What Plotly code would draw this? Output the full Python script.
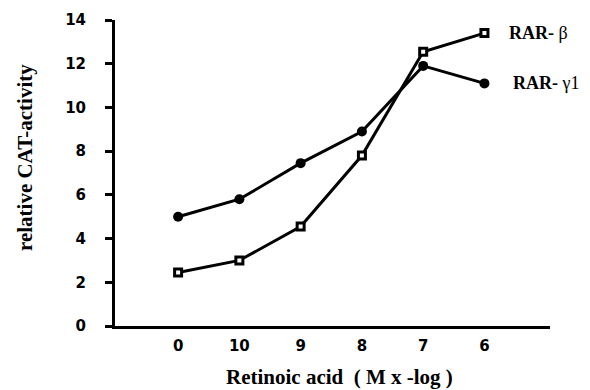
import plotly.graph_objects as go

categories = ["0", "10", "9", "8", "7", "6"]
rar_beta = [2.45, 3.0, 4.55, 7.8, 12.55, 13.4]
rar_gamma1 = [5.0, 5.8, 7.45, 8.9, 11.9, 11.1]
y_ticks = [0, 2, 4, 6, 8, 10, 12, 14]

x_pos = list(range(len(categories)))

fig = go.Figure()
fig.add_trace(go.Scatter(
    x=x_pos, y=rar_gamma1, mode="lines+markers", name="RAR- γ1",
    line=dict(color="black", width=3),
    marker=dict(symbol="circle", size=10, color="black"),
))
fig.add_trace(go.Scatter(
    x=x_pos, y=rar_beta, mode="lines+markers", name="RAR- β",
    line=dict(color="black", width=3),
    marker=dict(symbol="square", size=7, color="white", line=dict(color="black", width=3)),
))

serif = "Liberation Serif"
sans = "DejaVu Sans"

fig.add_annotation(x=x_pos[-1], y=rar_beta[-1], text="<b>RAR-</b> β", showarrow=False,
                   xanchor="left", yanchor="middle", xshift=23,
                   font=dict(family=serif, size=18, color="black"))
fig.add_annotation(x=x_pos[-1], y=rar_gamma1[-1], text="<b>RAR-</b> γ1", showarrow=False,
                   xanchor="left", yanchor="middle", xshift=27,
                   font=dict(family=serif, size=18, color="black"))

# axis titles
fig.add_annotation(xref="paper", yref="paper", x=-0.207, y=0.552, textangle=-90,
                   text="<b>relative CAT-activity</b>", showarrow=False,
                   xanchor="center", yanchor="middle",
                   font=dict(family=serif, size=21, color="black"))
fig.add_annotation(xref="paper", yref="paper", x=0.517, y=-0.167,
                   text="<b>Retinoic acid  ( M x -log )</b>", showarrow=False,
                   xanchor="center", yanchor="middle",
                   font=dict(family=serif, size=21, color="black"))

fig.update_layout(
    width=590, height=390,
    margin=dict(l=115, r=40, t=20, b=64),
    paper_bgcolor="white", plot_bgcolor="white",
    showlegend=False,
    xaxis=dict(
        range=[-1.03, 6.07], tickmode="array", tickvals=x_pos, ticktext=categories,
        showline=True, linecolor="black", linewidth=3, showgrid=False, zeroline=False,
        ticks="", ticklabelstandoff=4, automargin=False,
        tickfont=dict(family=sans, size=15, color="black", weight="bold"),
    ),
    yaxis=dict(
        range=[0, 14], tickmode="array", tickvals=y_ticks,
        showline=True, linecolor="black", linewidth=3, showgrid=False, zeroline=False,
        ticks="outside", ticklen=7, tickwidth=2.5, tickcolor="black", ticklabelstandoff=16,
        automargin=False,
        tickfont=dict(family=sans, size=15, color="black", weight="bold"),
    ),
)

fig.write_html("out.html", config={"displayModeBar": False},
               post_script="document.body.style.margin='0';")
